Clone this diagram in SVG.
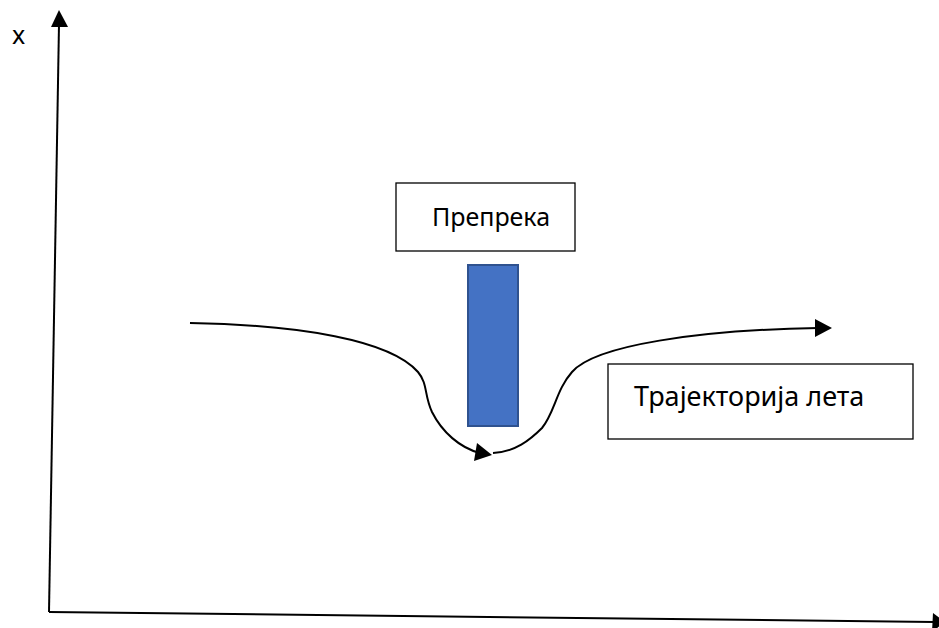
<svg xmlns="http://www.w3.org/2000/svg" width="939" height="628" viewBox="0 0 939 628">
  <style>
    .line { fill: none; stroke: #000; stroke-width: 2; }
    .head { fill: #000; stroke: none; }
    .box { fill: #fff; stroke: #000; stroke-width: 1.3; }
    .label { font-family: "Noto Sans", "Open Sans", sans-serif; font-size: 25px; fill: #000; }
    .big { font-size: 27px; }
  </style>
  <rect width="939" height="628" fill="#fff"/>

  <!-- axes -->
  <g id="axes">
    <line class="line" x1="49" y1="612" x2="59" y2="24"/>
    <polygon class="head" points="59,10 51,27 68,27"/>
    <line class="line" x1="49" y1="612" x2="934" y2="622"/>
    <polygon class="head" points="945,622 933,613 932,632"/>
    <text class="label" x="12" y="44">x</text>
  </g>

  <!-- obstacle label -->
  <g id="obstacle-label">
    <rect class="box" x="396" y="183" width="179" height="68"/>
    <text class="label" x="491" y="226" text-anchor="middle">Препрека</text>
  </g>

  <!-- obstacle -->
  <g id="obstacle">
    <rect x="468" y="265" width="50" height="161" fill="#4472C4" stroke="#2F528F" stroke-width="2"/>
  </g>

  <!-- trajectory label -->
  <g id="trajectory-label">
    <rect class="box" x="608" y="364" width="305" height="75"/>
    <text class="label big" x="634" y="406">Трајекторија лета</text>
  </g>

  <!-- flight path -->
  <g id="connectors">
    <path class="line" d="M190,323 C300,325 390,340 418,372 C428,384 424,395 432,412 C442,432 460,448 480,453"/>
    <polygon class="head" points="492,455 477,443 474,461"/>
    <path class="line" d="M493,453 C515,452 530,440 542,428 C555,412 556,390 572,372 C595,345 700,330 818,328"/>
    <polygon class="head" points="832,328 815,319 815,337"/>
  </g>
</svg>
